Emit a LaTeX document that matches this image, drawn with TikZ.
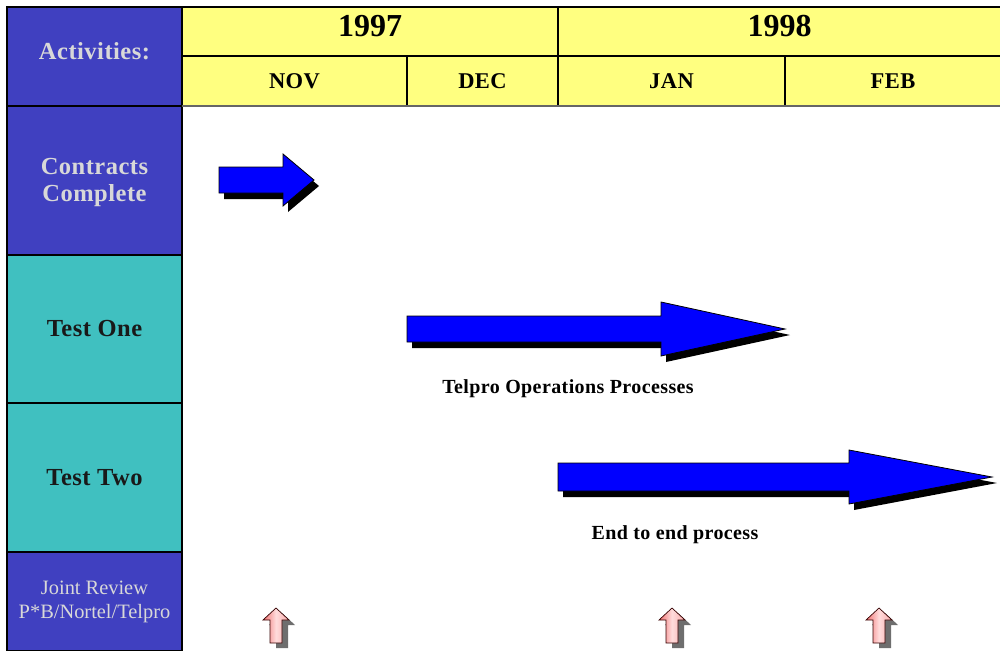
\documentclass[tikz,border=0pt]{standalone}
\usepackage{fontspec}
\setmainfont{Liberation Serif}
\definecolor{actblue}{HTML}{4040C0}
\definecolor{testteal}{HTML}{40C0C0}
\definecolor{hdyellow}{HTML}{FFFF80}
\definecolor{paletext}{HTML}{D8D8D8}
\definecolor{flowblue}{HTML}{0000FF}
\definecolor{mileshadow}{HTML}{6E6E6E}
\definecolor{pinkdark}{HTML}{F07070}
\definecolor{pinklight}{HTML}{FFDCDC}
\definecolor{pinkmid}{HTML}{F8A8A8}

% block arrow with drop shadow: left x, head base x, tip x, centre y, shaft half height, head half height
\newcommand\flowarrow[6]{%
  \fill[black,shift={(5,6)}] (#1,#4-#5) -- (#2,#4-#5) -- (#2,#4-#6) -- (#3,#4)
    -- (#2,#4+#6) -- (#2,#4+#5) -- (#1,#4+#5) -- cycle;
  \filldraw[fill=flowblue,draw=black,line width=0.8pt,line join=miter]
    (#1,#4-#5) -- (#2,#4-#5) -- (#2,#4-#6) -- (#3,#4)
    -- (#2,#4+#6) -- (#2,#4+#5) -- (#1,#4+#5) -- cycle;}

% small review marker arrow pointing up, tip at x
\newcommand\reviewmark[1]{%
  \fill[mileshadow,shift={(6,5)}] (#1,608) -- (#1+13,620) -- (#1+6,620) -- (#1+6,643)
    -- (#1-6,643) -- (#1-6,620) -- (#1-13,620) -- cycle;
  \path[draw=black!80!red,line width=0.7pt,left color=pinkdark,right color=pinkmid,middle color=pinklight]
    (#1,608) -- (#1+13,620) -- (#1+6,620) -- (#1+6,643)
    -- (#1-6,643) -- (#1-6,620) -- (#1-13,620) -- cycle;}

\begin{document}
\begin{tikzpicture}[x=1pt,y=-1pt,
  cell/.style={draw=black,line width=1.2pt,rectangle,inner sep=0pt,outer sep=0pt,anchor=north west},
  hdcell/.style={cell,fill=hdyellow},
  actcell/.style={cell,fill=actblue},
  testcell/.style={cell,fill=testteal},
  yeartxt/.style={font=\fontsize{32}{34}\selectfont\bfseries,text=black},
  monthtxt/.style={font=\fontsize{22.5}{24}\selectfont\bfseries\addfontfeatures{LetterSpace=2},text=black},
  boldpale/.style={font=\fontsize{24.5}{27}\selectfont\bfseries\addfontfeatures{LetterSpace=2},text=paletext,align=center},
  boldblack/.style={font=\fontsize{24.5}{27}\selectfont\bfseries\addfontfeatures{LetterSpace=2},text=black!90,align=center},
  thinpale/.style={font=\fontsize{20.4}{24}\selectfont,text=paletext,align=center},
  flowlabel/.style={font=\fontsize{20}{24}\selectfont\bfseries\addfontfeatures{LetterSpace=2},text=black}]
\useasboundingbox (0,0) rectangle (1000,650);

% activity column
\node[actcell,minimum width=175pt,minimum height=99pt] (act) at (7,7) {};
\node[actcell,minimum width=175pt,minimum height=149pt] (cc) at (7,106) {};
\node[testcell,minimum width=175pt,minimum height=148pt] (t1) at (7,255) {};
\node[testcell,minimum width=175pt,minimum height=149pt] (t2) at (7,403) {};
\node[actcell,minimum width=175pt,minimum height=99pt] (jr) at (7,552) {};

% calendar header
\node[hdcell,minimum width=376pt,minimum height=49pt] (y97) at (182,7) {};
\node[hdcell,minimum width=443pt,minimum height=49pt] (y98) at (558,7) {};
\node[hdcell,minimum width=225pt,minimum height=50pt] (nov) at (182,56) {};
\node[hdcell,minimum width=151pt,minimum height=50pt] (dec) at (407,56) {};
\node[hdcell,minimum width=227pt,minimum height=50pt] (jan) at (558,56) {};
\node[hdcell,minimum width=216pt,minimum height=50pt] (feb) at (785,56) {};
\draw[black!60,line width=2pt] (nov.south west) -- (feb.south east);

% header texts
\node[yeartxt] (y97t) at ([yshift=5pt]y97.center) {1997};
\node[yeartxt] (y98t) at ([yshift=5pt]y98.center) {1998};
\node[monthtxt] (novt) at (nov.center) {NOV};
\node[monthtxt] (dect) at (dec.center) {DEC};
\node[monthtxt] (jant) at (jan.center) {JAN};
\node[monthtxt] (febt) at (feb.center) {FEB};

% activity texts
\node[boldpale] (actt) at ([yshift=5.5pt]act.center) {Activities:};
\node[boldpale] (cct) at ([yshift=-2pt]cc.center) {Contracts\\Complete};
\node[boldblack] (t1t) at (t1.center) {Test One};
\node[boldblack] (t2t) at (t2.center) {Test Two};
\node[thinpale] (jrt) at (jr.center) {Joint Review\\P*B/Nortel/Telpro};

% schedule arrows
\flowarrow{219}{283}{314}{180}{13}{26}
\flowarrow{407}{661}{785}{329}{13}{27}
\flowarrow{558}{849}{992}{477}{14}{27}

\node[flowlabel] (telp) at (568,389) {Telpro Operations Processes};
\node[flowlabel] (e2e) at (675,535) {End to end process};

% joint review markers
\reviewmark{276}
\reviewmark{672}
\reviewmark{879}
\end{tikzpicture}
\end{document}
